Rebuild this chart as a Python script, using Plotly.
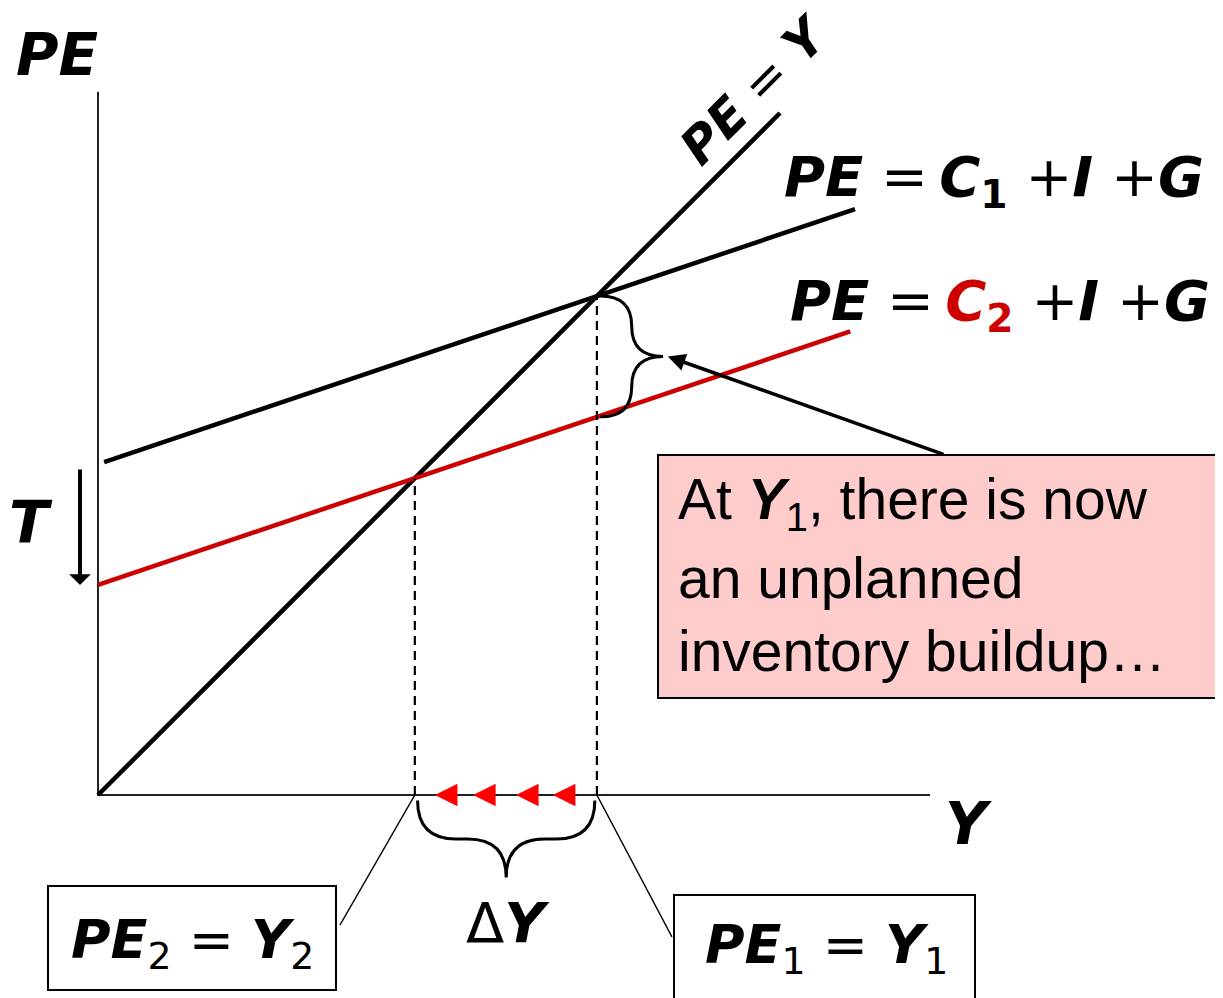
import plotly.graph_objects as go

# ---------------- data (model values, in diagram units) ----------------
mpc = 0.337                 # slope of both PE lines
intercept_pe1 = 4.85        # C1 + I + G (autonomous part)
intercept_pe2 = 3.08        # C2 + I + G (after tax rise)
income_45 = [0.0, 10.0]     # PE = Y line
income_pe1 = [0.09, 11.1]   # extent of PE1 line
income_pe2 = [0.0, 11.03]   # extent of PE2 line
y_axis_top = 10.31
x_axis_end = 12.2
shift_arrows = [4.94, 5.50, 6.13, 6.67]   # red arrows on Y axis (Y1 -> Y2)

# ---------------- geometry helpers ----------------
W, H = 1223, 998
PAGE = 8          # default body margin of the html page
U = 68.2          # pixels per unit
OX, OY = 98, 795  # origin in pixels


def px(x):
    return (x - OX) / U


def py(y):
    return (OY - y) / U


pe1 = [intercept_pe1 + mpc * v for v in income_pe1]
pe2 = [intercept_pe2 + mpc * v for v in income_pe2]
Y1 = intercept_pe1 / (1 - mpc)
Y2 = intercept_pe2 / (1 - mpc)
pe2_at_Y1 = intercept_pe2 + mpc * Y1

RED = "#CC0000"
BF = "DejaVu Sans"
AF = "Liberation Sans"
TS = "\u2009"

fig = go.Figure()

# axes
fig.add_trace(go.Scatter(x=[0, 0, x_axis_end], y=[y_axis_top, 0, 0], mode="lines",
                         line=dict(color="#222222", width=2), hoverinfo="skip"))
# 45-degree line
fig.add_trace(go.Scatter(x=income_45, y=income_45, mode="lines",
                         line=dict(color="black", width=4.5), hoverinfo="skip"))
# PE1
fig.add_trace(go.Scatter(x=income_pe1, y=pe1, mode="lines",
                         line=dict(color="black", width=4.5), hoverinfo="skip"))
# PE2
fig.add_trace(go.Scatter(x=income_pe2, y=pe2, mode="lines",
                         line=dict(color=RED, width=4.5), hoverinfo="skip"))
# dashed verticals
fig.add_trace(go.Scatter(x=[Y1, Y1], y=[0, Y1], mode="lines",
                         line=dict(color="black", width=2.2, dash="9px,6px"), hoverinfo="skip"))
fig.add_trace(go.Scatter(x=[Y2, Y2], y=[0, Y2], mode="lines",
                         line=dict(color="black", width=2.2, dash="9px,6px"), hoverinfo="skip"))
# leader lines to boxes
fig.add_trace(go.Scatter(x=[Y2, px(340)], y=[0, py(925)], mode="lines",
                         line=dict(color="black", width=1.5), hoverinfo="skip"))
fig.add_trace(go.Scatter(x=[Y1, px(672)], y=[0, py(937)], mode="lines",
                         line=dict(color="black", width=1.5), hoverinfo="skip"))


def rbrace(x0, ytop, ybot, w):
    xm = x0 + w / 2
    ymid = (ytop + ybot) / 2
    q = min(w / 2, (ytop - ybot) / 4)
    return (f"M{x0},{ytop} Q{xm},{ytop} {xm},{ytop - q} L{xm},{ymid + q} "
            f"Q{xm},{ymid} {x0 + w},{ymid} Q{xm},{ymid} {xm},{ymid - q} "
            f"L{xm},{ybot + q} Q{xm},{ybot} {x0},{ybot}")


def dbrace(xl, xr, y0, d):
    xc = (xl + xr) / 2
    ym = y0 - d / 2
    q = min(d / 2, (xr - xl) / 4)
    return (f"M{xl},{y0} Q{xl},{ym} {xl + q},{ym} L{xc - q},{ym} Q{xc},{ym} {xc},{y0 - d} "
            f"Q{xc},{ym} {xc + q},{ym} L{xr - q},{ym} Q{xr},{ym} {xr},{y0}")


brace_w = 0.92
fig.add_shape(type="path", xref="x", yref="y",
              path=rbrace(Y1 + 0.05, Y1, pe2_at_Y1, brace_w),
              line=dict(color="black", width=3))
fig.add_shape(type="path", xref="x", yref="y",
              path=dbrace(Y2 + 0.04, Y1 - 0.03, -0.08, 1.13),
              line=dict(color="black", width=3))

# boxes
fig.add_shape(type="rect", xref="x", yref="y", x0=px(658), x1=px(1222), y0=py(455), y1=py(698),
              fillcolor="#FFCCCC", line=dict(color="black", width=2), layer="below")
fig.add_shape(type="rect", xref="x", yref="y", x0=px(48), x1=px(336), y0=py(886), y1=py(990),
              fillcolor="white", line=dict(color="black", width=2))
fig.add_shape(type="rect", xref="x", yref="y", x0=px(674), x1=px(975), y0=py(895), y1=py(1005),
              fillcolor="white", line=dict(color="black", width=2))

# arrows
fig.add_annotation(x=Y1 + brace_w + 0.12, y=(Y1 + pe2_at_Y1) / 2, ax=px(945), ay=py(455),
                   xref="x", yref="y", axref="x", ayref="y", showarrow=True,
                   arrowhead=2, arrowsize=1, arrowwidth=3.5, arrowcolor="black", text="", standoff=0)
fig.add_annotation(x=px(80), y=py(585), ax=px(80), ay=py(468),
                   xref="x", yref="y", axref="x", ayref="y", showarrow=True,
                   arrowhead=1, arrowsize=0.9, arrowwidth=4, arrowcolor="black", text="", standoff=0)
for a in shift_arrows:
    fig.add_annotation(x=a, y=0, ax=a + 0.27, ay=0,
                       xref="x", yref="y", axref="x", ayref="y", showarrow=True,
                       arrowhead=2, arrowsize=1.5, arrowwidth=3, arrowcolor="red", text="", standoff=0)


def label(text, xp, yp, size, family=BF, color="black", xanchor="center", yanchor="middle", angle=0):
    fig.add_annotation(x=px(xp), y=py(yp), xref="x", yref="y", text=text, showarrow=False,
                       font=dict(family=family, size=size, color=color),
                       xanchor=xanchor, yanchor=yanchor, textangle=angle)


def bi(s, color=None):
    if color:
        return f"<b><i><span style='color:{color}'>{s}</span></i></b>"
    return f"<b><i>{s}</i></b>"


label(bi("PE"), 57, 55, 58)
label(bi("T"), 31, 523, 58)
label(bi("Y"), 968, 824, 58)
label("Δ" + bi("Y"), 508, 922, 56)
label(bi("PE") + " = " + bi("Y"), 755, 90, 50, angle=-45)
label(bi("PE") + " =" + TS + bi("C") + "<sub><b>1</b></sub> +" + bi("I") + " +" + bi("G"),
      994, 180, 56)
label(bi("PE") + " =" + TS + bi("C", RED) + f"<sub><b><span style='color:{RED}'>2</span></b></sub> +"
      + bi("I") + " +" + bi("G"), 1000, 304, 56)
label(bi("PE") + "<sub>2</sub> = " + bi("Y") + "<sub>2</sub>", 192, 943, 54)
label(bi("PE") + "<sub>1</sub> = " + bi("Y") + "<sub>1</sub>", 826, 948, 54)

label("At " + bi("Y") + "<sub>1</sub>, there is now", 676, 503, 57, family=AF, xanchor="left")
label("an unplanned", 676, 578, 57, family=AF, xanchor="left")
label("inventory buildup…", 676, 651, 57, family=AF, xanchor="left")

fig.update_layout(
    width=W - PAGE, height=H - PAGE, margin=dict(l=0, r=0, t=0, b=0),
    paper_bgcolor="white", plot_bgcolor="white", showlegend=False,
    xaxis=dict(range=[px(PAGE), px(W)], visible=False, fixedrange=True),
    yaxis=dict(range=[py(H), py(PAGE)], visible=False, fixedrange=True),
)
fig.write_html("out.html")
